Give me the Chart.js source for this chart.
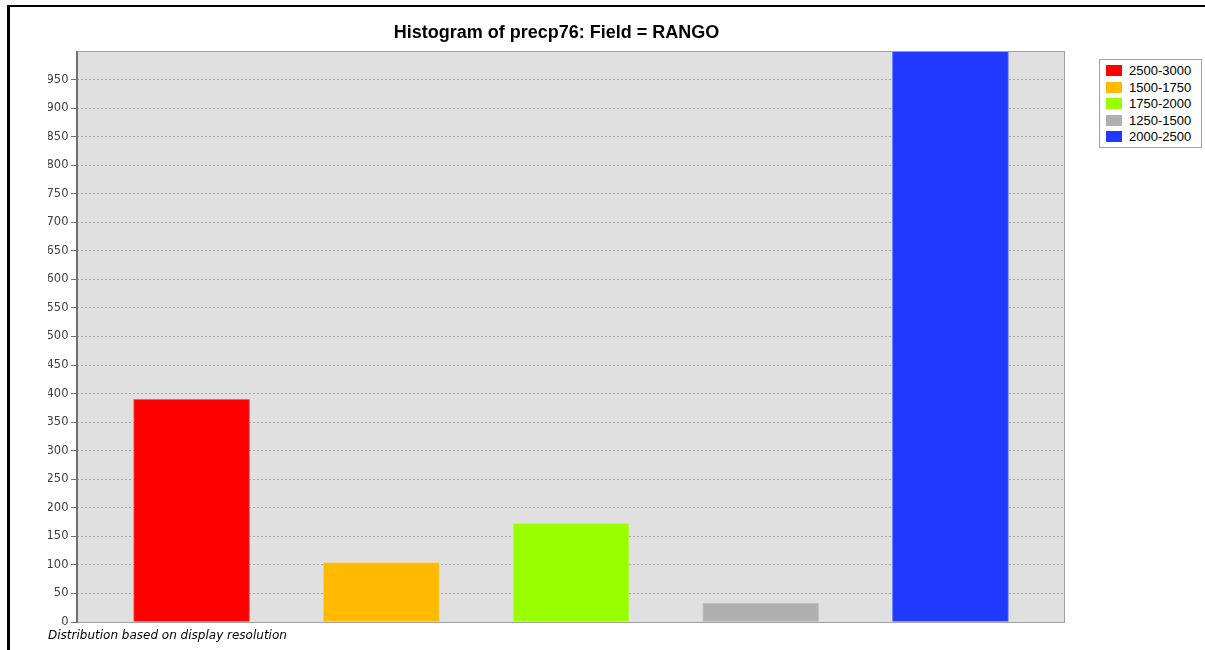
<!DOCTYPE html>
<html>
<head>
<meta charset="utf-8">
<script src="https://cdn.jsdelivr.net/npm/chart.js@4"></script>
<style>
    body { margin: 0; background: #fff; font-family: "Liberation Sans", Arial, sans-serif; }
    #frame { position: absolute; left: 7px; top: 5px; width: 1300px; height: 700px; border-left: 3px solid #000; border-top: 2px solid #000; }
    #wrap { position: absolute; left: 0; top: 0; width: 1090px; height: 650px; }
    #legend { position: absolute; left: 1099px; top: 59px; width: 101px; border: 1px solid #a0a0a0; background: #fff; padding: 3px 0 1px 0; }
    .item { height: 16.5px; line-height: 16.5px; font-size: 13px; color: #000; white-space: nowrap; }
    .sw { display: inline-block; width: 16px; height: 11px; margin: 0 7px 0 6px; vertical-align: -1px; }
</style>
</head>
<body>
<div id="frame"></div>
<div id="wrap"><canvas id="chart"></canvas></div>
<div id="legend"></div>
<script>
document.addEventListener('DOMContentLoaded', () => {
    // data
    const categories = ['2500-3000', '1500-1750', '1750-2000', '1250-1500', '2000-2500'];
    const counts = [390, 104, 173, 33, 1050];
    const colors = ['#ff0000', '#ffba00', '#99ff00', '#b0b0b0', '#2139ff'];
    const edges = ['#ff5a5a', '#ffcc55', '#b8ff55', '#c4c4c4', '#5a6cff'];
    const yTicks = { min: 0, max: 1000, step: 50 };

    // legend
    const legendElem = document.getElementById('legend');
    categories.forEach((c, i) => {
        const row = document.createElement('div');
        row.className = 'item';
        row.innerHTML = `<span class="sw" style="background:${colors[i]}"></span>${c}`;
        legendElem.appendChild(row);
    });

    // plot background + frame
    const plotArea = {
        id: 'plotArea',
        beforeDraw(chart) {
            const { ctx, chartArea: a } = chart;
            ctx.save();
            ctx.fillStyle = '#e0e0e0';
            ctx.fillRect(a.left, a.top, a.right - a.left, a.bottom - a.top);
            ctx.restore();
        },
        afterDatasetsDraw(chart) {
            const { ctx, chartArea: a } = chart;
            ctx.save();
            ctx.strokeStyle = '#a0a0a0';
            ctx.lineWidth = 1;
            ctx.strokeRect(a.left + 0.5, a.top + 0.5, a.right - a.left - 1, a.bottom - a.top);
            ctx.strokeStyle = '#707070';
            ctx.lineWidth = 2;
            ctx.beginPath();
            ctx.moveTo(a.left, a.top);
            ctx.lineTo(a.left, a.bottom + 1);
            ctx.stroke();
            ctx.restore();
        }
    };

    const ctx = document.getElementById('chart').getContext('2d');
    new Chart(ctx, {
        type: 'bar',
        data: {
            datasets: categories.map((c, i) => ({
                label: c,
                data: [{ x: i, y: counts[i] }],
                backgroundColor: colors[i],
                borderColor: edges[i],
                borderWidth: 1,
                clip: 0
            }))
        },
        options: {
            responsive: true,
            maintainAspectRatio: false,
            animation: false,
            grouped: false,
            barThickness: 116,
            layout: { padding: { left: 48, right: 25, top: 0, bottom: 6.6 } },
            scales: {
                x: {
                    type: 'linear',
                    offset: false,
                    min: -0.604,
                    max: 4.604,
                    display: false
                },
                y: {
                    min: yTicks.min,
                    max: yTicks.max,
                    afterBuildTicks: (scale) => {
                        scale.ticks = scale.ticks.filter(t => t.value < yTicks.max);
                    },
                    afterFit: (scale) => { scale.width = 29; },
                    ticks: {
                        stepSize: yTicks.step,
                        color: '#404040',
                        padding: 2.5,
                        font: { family: '"DejaVu Sans"', size: 11.5 }
                    },
                    grid: {
                        color: '#a8a8a8',
                        tickColor: '#707070',
                        tickLength: 6,
                        tickBorderDash: [],
                        lineWidth: 1
                    },
                    border: { display: false, dash: [2, 2] }
                }
            },
            plugins: {
                legend: { display: false },
                tooltip: { enabled: false },
                title: {
                    display: true,
                    text: 'Histogram of precp76: Field = RANGO',
                    color: '#000',
                    font: { family: '"Liberation Sans", Arial', size: 18, weight: 'bold' },
                    padding: { top: 22, bottom: 7.4 }
                },
                subtitle: {
                    display: true,
                    position: 'bottom',
                    align: 'start',
                    text: 'Distribution based on display resolution',
                    color: '#000',
                    font: { family: '"DejaVu Sans"', size: 12, style: 'italic' },
                    padding: { top: 7, bottom: 0 }
                }
            }
        },
        plugins: [plotArea]
    });
});
</script>
</body>
</html>
